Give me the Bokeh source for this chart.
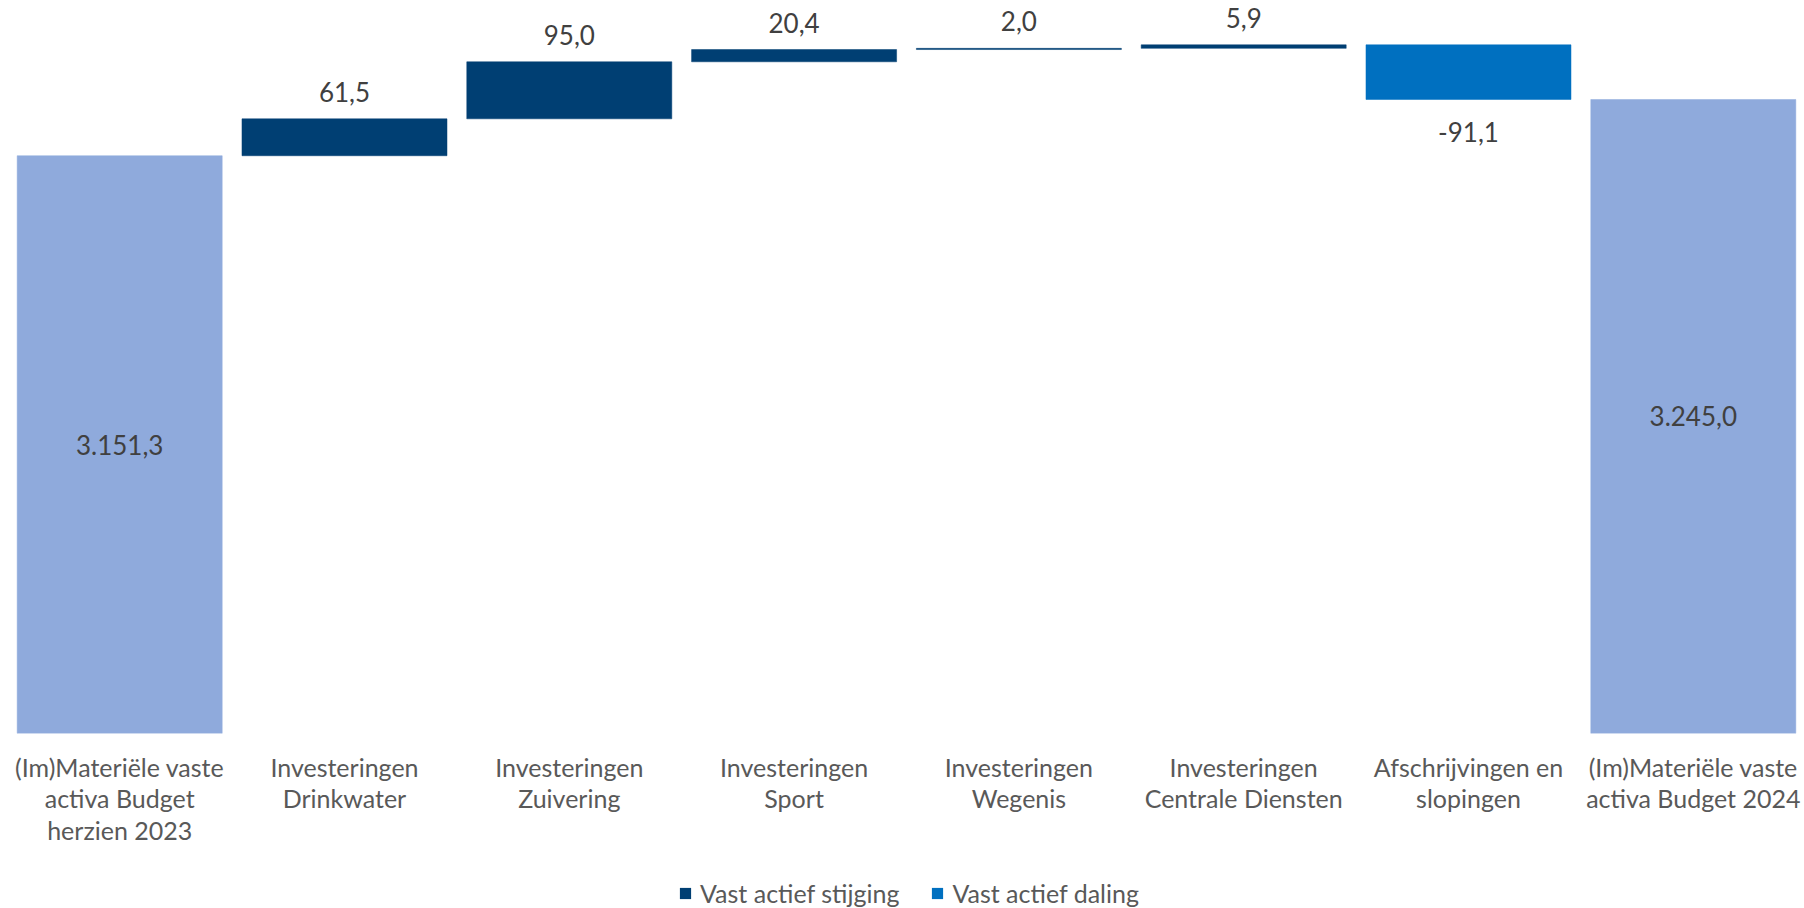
from bokeh.plotting import figure
from bokeh.layouts import column
from bokeh.models import ColumnDataSource, Range1d, LinearAxis, FixedTicker, Legend, LegendItem
from bokeh.core.properties import value
from bokeh.embed import file_html
from bokeh.resources import INLINE

# ---- data ----
categories = [
    "(Im)Materiële vaste\nactiva Budget\nherzien 2023",
    "Investeringen\nDrinkwater",
    "Investeringen\nZuivering",
    "Investeringen\nSport",
    "Investeringen\nWegenis",
    "Investeringen\nCentrale Diensten",
    "Afschrijvingen en\nslopingen",
    "(Im)Materiële vaste\nactiva Budget 2024",
]
values = [3151.3, 61.5, 95.0, 20.4, 2.0, 5.9, -91.1, 3245.0]
kinds = ["total", "up", "up", "up", "up", "up", "down", "total"]
legend_names = {"up": "Vast actief stijging", "down": "Vast actief daling"}
colors = {"total": "#8FAADC", "up": "#003F73", "down": "#0070C0"}

Y_MIN, Y_MAX = 2188.9, 3409.9
FONT = "Lato"


def fmt(v):
    s = f"{v:,.1f}"
    return s.replace(",", "X").replace(".", ",").replace("X", ".")


# waterfall geometry derived from values
xs, bottoms, tops, lab_y, lab_off = [], [], [], [], []
running = 0.0
for i, (v, k) in enumerate(zip(values, kinds)):
    if k == "total":
        b, t = Y_MIN, v
        running = v
        ly, lo = (Y_MIN + v) / 2, 0
    else:
        b, t = running, running + v
        running += v
        ly, lo = (t, -27) if v >= 0 else (t, 33)
    xs.append(i)
    bottoms.append(min(b, t))
    tops.append(max(b, t))
    lab_y.append(ly)
    lab_off.append(lo)

labels = [fmt(v) for v in values]

W = 1804
H_MAIN = 852
H_LEG = 56

p = figure(
    width=W, height=H_MAIN,
    x_range=Range1d(-0.5302, 7.4947), y_range=Range1d(Y_MIN, Y_MAX),
    output_backend="svg", toolbar_location=None,
    x_axis_location=None, y_axis_location=None,
    min_border_left=0, min_border_right=0, min_border_top=0, min_border_bottom=H_MAIN - 733,
)
p.outline_line_color = None
p.xgrid.visible = False
p.ygrid.visible = False

sources = {}
for k in ["total", "up", "down"]:
    idx = [i for i in range(len(values)) if kinds[i] == k]
    sources[k] = ColumnDataSource(dict(
        x=[xs[i] for i in idx],
        bottom=[bottoms[i] for i in idx],
        top=[tops[i] for i in idx],
    ))
    p.vbar(x="x", bottom="bottom", top="top", width=0.912, source=sources[k],
           fill_color=colors[k], line_color=colors[k], line_width=0.5)

lsrc = ColumnDataSource(dict(x=xs, y=lab_y, text=labels, off=lab_off))
p.text(x="x", y="y", text="text", y_offset="off", source=lsrc,
       text_align="center", text_baseline="middle",
       text_font=value(FONT), text_font_size="26px", text_color="#404040")

xaxis = LinearAxis(ticker=FixedTicker(ticks=list(range(len(categories)))))
xaxis.major_label_overrides = {i: c for i, c in enumerate(categories)}
xaxis.axis_line_color = None
xaxis.major_tick_line_color = None
xaxis.minor_tick_line_color = None
xaxis.major_tick_out = 0
xaxis.major_tick_in = 0
xaxis.major_label_standoff = 18
xaxis.major_label_text_font = FONT
xaxis.major_label_text_font_size = "25px"
xaxis.major_label_text_color = "#595959"
xaxis.major_label_text_line_height = 1.06
p.add_layout(xaxis, "below")

# legend strip underneath the chart (same bar data; renderers hidden, only their swatches shown)
q = figure(
    width=W, height=H_LEG, x_range=Range1d(-0.5302, 7.4947), y_range=Range1d(0, 1),
    output_backend="svg", toolbar_location=None,
    x_axis_location=None, y_axis_location=None,
    min_border_left=0, min_border_right=0, min_border_top=0, min_border_bottom=0,
)
q.outline_line_color = None
q.xgrid.visible = False
q.ygrid.visible = False
leg_r = {}
for k in ["up", "down"]:
    leg_r[k] = q.vbar(x="x", bottom="bottom", top="top", width=0.912, source=sources[k],
                      fill_color=colors[k], line_color=None, visible=False)

legend = Legend(
    items=[LegendItem(label=legend_names[k], renderers=[leg_r[k]]) for k in ["up", "down"]],
    location=(678, 0), orientation="horizontal",
    glyph_width=14, glyph_height=14, label_standoff=8, spacing=31,
    padding=0, margin=0, border_line_color=None, background_fill_alpha=0,
    inactive_fill_alpha=0,
    label_text_font=FONT, label_text_font_size="25px", label_text_color="#595959",
)
q.add_layout(legend, "center")

layout = column(p, q, spacing=0)
open("out.html", "w").write(file_html(layout, INLINE))
